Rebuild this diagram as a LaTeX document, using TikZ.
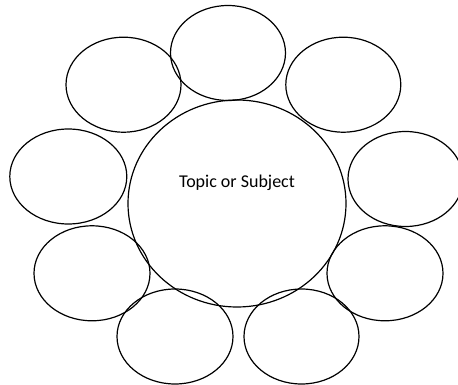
\documentclass[tikz,border=0pt]{standalone}
\usepackage{fontspec}
\setmainfont{Carlito}
\usepackage{xcolor}
\usepackage{tikz}
\usetikzlibrary{shapes.geometric}
\tikzset{
  bubble/.style={ellipse, draw=black, line width=1.2pt, inner sep=0pt, minimum width=115pt, minimum height=95pt},
  topicbubble/.style={bubble, minimum width=218pt, minimum height=207pt},
  topictext/.style={font=\fontsize{18}{21}\selectfont, text=black, inner sep=0pt}
}

\begin{document}
\begin{tikzpicture}[x=1pt, y=1pt]
\useasboundingbox (0,0) rectangle (458,-385);
% centre
\node[topicbubble] (topic) at (237,-203.5) {};
\node[topictext, yshift=21pt] (topiclabel) at (topic.center) {Topic or Subject};
% ring of bubbles
\node[bubble] (top) at (228,-53) {};
\node[bubble] (topleft) at (123.5,-84.7) {};
\node[bubble] (topright) at (343.3,-84.7) {};
\node[bubble, minimum width=117pt] (left) at (68.3,-176.5) {};
\node[bubble] (right) at (405.5,-179) {};
\node[bubble, minimum width=116pt] (lowleft) at (92,-273.3) {};
\node[bubble, minimum width=116pt] (lowright) at (385,-273.3) {};
\node[bubble, minimum width=116pt] (bottomleft) at (175,-336.5) {};
\node[bubble] (bottomright) at (301.5,-336.5) {};
\end{tikzpicture}
\end{document}
